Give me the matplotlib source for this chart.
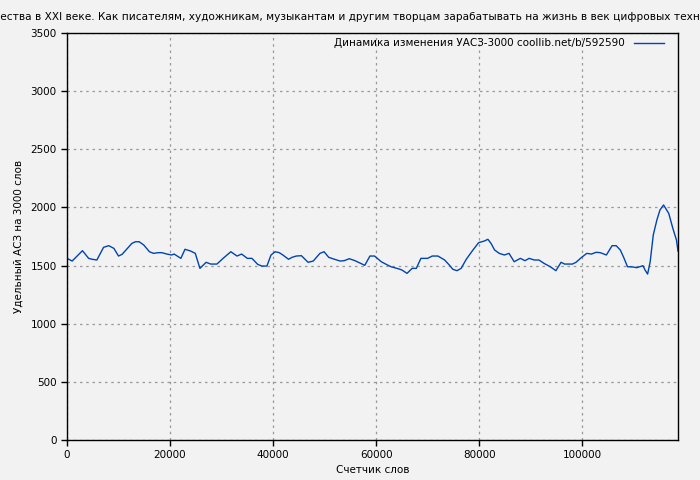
import matplotlib
matplotlib.use("Agg")
import matplotlib.pyplot as plt

# --- Data ---
words = [0, 1000, 3000, 4200, 4900, 5800, 7100, 8100, 9100, 10000,
         10700, 12600, 13300, 14000, 14900, 16000, 16800, 17700, 18400, 19400,
         20300, 20800, 22100, 22900, 24000, 24900, 25800, 27000, 27900, 29100,
         30300, 31800, 33000, 33900, 35000, 35900, 37000, 37800, 38800, 39600,
         40400, 41200, 41900, 43000, 43700, 44500, 45500, 46800, 47800, 49100,
         49900, 50800, 51800, 53000, 53800, 54800, 55900, 57000, 57800, 58800,
         59700, 61000, 62200, 62900, 64500, 65000, 66000, 67000, 67800, 68700,
         70000, 70900, 72000, 73300, 74200, 74900, 75700, 76500, 77500, 78800,
         79900, 81000, 81700, 82300, 83000, 83900, 84900, 85800, 86800, 88000,
         88900, 89700, 90700, 91600, 92600, 93800, 94900, 95900, 96600, 98100,
         98800, 99900, 100900, 101800, 102700, 103500, 104700, 105800, 106600, 107400,
         108000, 108800, 109800, 110600, 111800, 112200, 112700, 113200, 113800, 114500,
         115100, 115800, 116800, 117600, 118300, 118600]
uasz = [1562, 1539, 1628, 1562, 1554, 1548, 1657, 1671, 1648, 1582,
        1597, 1691, 1705, 1705, 1677, 1619, 1605, 1611, 1611, 1599,
        1591, 1599, 1562, 1640, 1625, 1605, 1476, 1528, 1513, 1513,
        1562, 1619, 1582, 1599, 1562, 1562, 1511, 1496, 1496, 1591,
        1619, 1611, 1591, 1554, 1571, 1582, 1585, 1528, 1539, 1605,
        1619, 1571, 1556, 1539, 1542, 1559, 1542, 1519, 1502, 1582,
        1582, 1533, 1505, 1490, 1470, 1462, 1433, 1476, 1476, 1562,
        1562, 1582, 1582, 1548, 1505, 1468, 1456, 1476, 1554, 1634,
        1697, 1711, 1726, 1691, 1634, 1605, 1591, 1605, 1533, 1562,
        1542, 1562, 1548, 1548, 1519, 1490, 1456, 1528, 1513, 1513,
        1528, 1571, 1605, 1599, 1614, 1611, 1591, 1671, 1671, 1634,
        1576, 1490, 1488, 1482, 1499, 1462, 1427, 1533, 1763, 1892,
        1978, 2021, 1949, 1820, 1720, 1625]

title_prefix = "Экономика творч"
title_rest = ("ества в XXI веке. Как писателям, художникам, музыкантам и другим "
              "творцам зарабатывать на жизнь в век цифровых технологий")
legend_label = "Динамика изменения УАСЗ-3000 coollib.net/b/592590"
x_label = "Счетчик слов"
y_label = "Удельный АСЗ на 3000 слов"

bg = "#f2f2f2"
plt.rcParams["font.family"] = ["DejaVu Sans"]

fig = plt.figure(figsize=(7, 4.8), dpi=100, facecolor=bg)
ax = fig.add_axes([67 / 700, 40 / 480, 611 / 700, 407 / 480], facecolor=bg)

ax.plot(words, uasz, color="#0044b0", linewidth=1, label=legend_label)

ax.set_xlim(0, words[-1])
ax.set_ylim(0, 3500)
ax.set_xticks(range(0, 110000, 20000))
ax.set_yticks(range(0, 3501, 500))
ax.tick_params(labelsize=7.5, direction="out", length=4, width=1, colors="black")
ax.grid(True, color="#999999", linestyle=(0, (2, 3)), linewidth=0.9)
for s in ax.spines.values():
    s.set_color("black")
    s.set_linewidth(1)

ax.set_xlabel(x_label, fontsize=7.5, labelpad=3)
ax.set_ylabel(y_label, fontsize=7.5, labelpad=5)

ax.legend(loc="upper right", frameon=False, markerfirst=False, fontsize=7.5,
          handlelength=2.9, borderaxespad=0.3,
          bbox_to_anchor=(1 - 7 / 611, 1 + 2 / 407))

# title is wider than the figure; shift so the clipped part matches
fig.canvas.draw()
r = fig.canvas.get_renderer()
tmp = fig.text(0, 0, title_prefix, fontsize=7.55)
w = tmp.get_window_extent(r).width
tmp.remove()
fig.text(-w / (7 * fig.dpi), 1 - 17 / 480, title_prefix + title_rest,
         fontsize=7.55, ha="left", va="center")

fig.savefig("out.png", dpi=100, facecolor=bg)
